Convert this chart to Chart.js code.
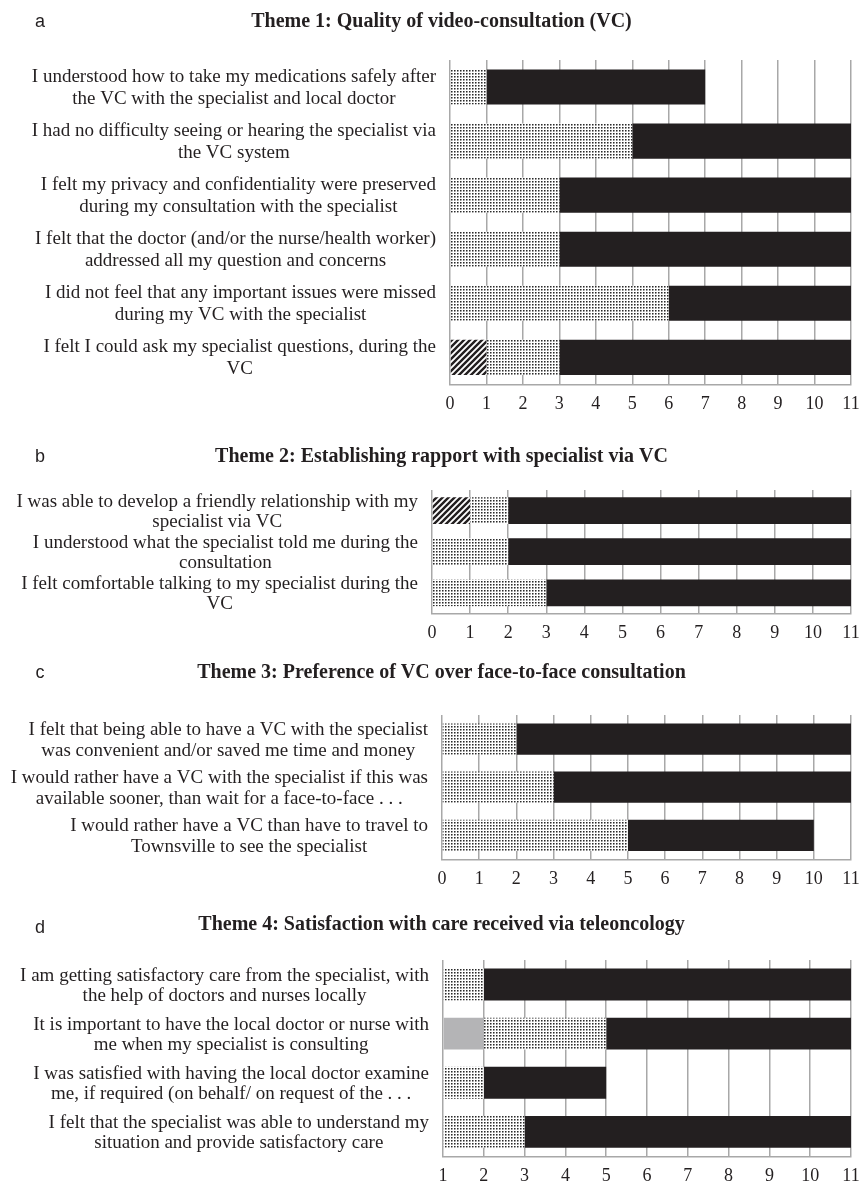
<!DOCTYPE html>
<html>
<head>
<meta charset="utf-8">
<script src="https://cdn.jsdelivr.net/npm/chart.js@4"></script>
<style>
  body { margin: 0; background: #fff; }
  #wrap { position: relative; width: 859px; height: 1196px; }
  #wrap canvas { position: absolute; left: 0; }
</style>
</head>
<body>
<div id="wrap">
  <canvas id="themeA" width="859" height="424" style="top:0px"></canvas>
  <canvas id="themeB" width="859" height="229" style="top:424px"></canvas>
  <canvas id="themeC" width="859" height="246" style="top:653px"></canvas>
  <canvas id="themeD" width="859" height="297" style="top:899px"></canvas>
</div>
<script>
// Theme 1: Quality of video-consultation (VC)
const themeALabels = [
    ['I understood how to take my medications safely after', 'the VC with the specialist and local doctor'],
    ['I had no difficulty seeing or hearing the specialist via', 'the VC system'],
    ['I felt my privacy and confidentiality were preserved', 'during my consultation with the specialist'],
    ['I felt that the doctor (and/or the nurse/health worker)', 'addressed all my question and concerns'],
    ['I did not feel that any important issues were missed', 'during my VC with the specialist'],
    ['I felt I could ask my specialist questions, during the', 'VC']
];
const themeADisagree = [0, 0, 0, 0, 0, 1];
const themeANeutral = [0, 0, 0, 0, 0, 0];
const themeAAgree = [1, 5, 3, 3, 6, 2];
const themeAStrongly = [6, 6, 8, 8, 5, 8];

// Theme 2: Establishing rapport with specialist via VC
const themeBLabels = [
    ['I was able to develop a friendly relationship with my', 'specialist via VC'],
    ['I understood what the specialist told me during the', 'consultation'],
    ['I felt comfortable talking to my specialist during the', 'VC']
];
const themeBDisagree = [1, 0, 0];
const themeBNeutral = [0, 0, 0];
const themeBAgree = [1, 2, 3];
const themeBStrongly = [9, 9, 8];

// Theme 3: Preference of VC over face-to-face consultation
const themeCLabels = [
    ['I felt that being able to have a VC with the specialist', 'was convenient and/or saved me time and money'],
    ['I would rather have a VC with the specialist if this was', 'available sooner, than wait for a face-to-face . . .'],
    ['I would rather have a VC than have to travel to', 'Townsville to see the specialist']
];
const themeCDisagree = [0, 0, 0];
const themeCNeutral = [0, 0, 0];
const themeCAgree = [2, 3, 5];
const themeCStrongly = [9, 8, 5];

// Theme 4: Satisfaction with care received via teleoncology
const themeDLabels = [
    ['I am getting satisfactory care from the specialist, with', 'the help of doctors and nurses locally'],
    ['It is important to have the local doctor or nurse with', 'me when my specialist is consulting'],
    ['I was satisfied with having the local doctor examine', 'me, if required (on behalf/ on request of the . . .'],
    ['I felt that the specialist was able to understand my', 'situation and provide satisfactory care']
];
const themeDDisagree = [0, 0, 0, 0];
const themeDNeutral = [0, 1, 0, 0];
const themeDAgree = [1, 3, 1, 2];
const themeDStrongly = [9, 6, 3, 8];

// tick labels: panels a-c count from 0, panel d axis is labelled from 1
const ticksFromZero = ['0', '1', '2', '3', '4', '5', '6', '7', '8', '9', '10', '11'];
const ticksFromOne = ['1', '2', '3', '4', '5', '6', '7', '8', '9', '10', '11'];

const INK = '#231f20';
const GRID = '#a8a8a8';
Chart.defaults.font.family = '"Liberation Serif", "Times New Roman", serif';
Chart.defaults.color = INK;

// fill patterns
const makeDots = () => {
    const c = document.createElement('canvas');
    c.width = 3; c.height = 3;
    const g = c.getContext('2d');
    g.fillStyle = '#fff';
    g.fillRect(0, 0, 3, 3);
    g.fillStyle = '#2a2a2a';
    g.fillRect(1, 1, 1, 1);
    g.fillStyle = '#8a8a8a';
    g.fillRect(2, 1, 1, 1);
    g.fillRect(1, 2, 1, 1);
    g.fillStyle = '#c4c4c4';
    g.fillRect(2, 2, 1, 1);
    return g.createPattern(c, 'repeat');
};

const makeHatch = () => {
    const c = document.createElement('canvas');
    c.width = 6; c.height = 6;
    const g = c.getContext('2d');
    g.fillStyle = '#fff';
    g.fillRect(0, 0, 6, 6);
    g.strokeStyle = INK;
    g.lineWidth = 2.4;
    g.beginPath();
    g.moveTo(-1, 7); g.lineTo(7, -1);
    g.moveTo(-4, 4); g.lineTo(4, -4);
    g.moveTo(2, 10); g.lineTo(10, 2);
    g.stroke();
    return g.createPattern(c, 'repeat');
};

const dotted = makeDots();
const hatched = makeHatch();

// draws the multi-line statements: each block right-aligned, lines centred
const sideLabels = {
    id: 'sideLabels',
    afterDraw(chart, args, opts) {
        const { ctx, chartArea, scales: { y } } = chart;
        ctx.save();
        ctx.font = opts.font;
        ctx.fillStyle = INK;
        ctx.textAlign = 'center';
        ctx.textBaseline = 'middle';
        chart.data.labels.forEach((lines, i) => {
            const yc = y.getPixelForValue(i) + 1;
            const w = Math.max(...lines.map(l => ctx.measureText(l).width));
            const cx = chartArea.left - opts.gap - w / 2;
            lines.forEach((l, j) => {
                ctx.fillText(l, cx, yc + (j - (lines.length - 1) / 2) * opts.lineHeight);
            });
        });
        ctx.restore();
    }
};

// panel letter a/b/c/d
const panelLetter = {
    id: 'panelLetter',
    afterDraw(chart, args, opts) {
        const { ctx } = chart;
        ctx.save();
        ctx.font = '18px "Liberation Sans", Arial, sans-serif';
        ctx.fillStyle = INK;
        ctx.textAlign = 'center';
        ctx.textBaseline = 'middle';
        ctx.fillText(opts.text, 40, opts.y);
        ctx.restore();
    }
};

const makePanel = (id, p) => {
    new Chart(document.getElementById(id).getContext('2d'), {
        type: 'bar',
        data: {
            labels: p.labels,
            datasets: [
                { label: 'Disagree', data: p.disagree, backgroundColor: hatched },
                { label: 'Neutral', data: p.neutral, backgroundColor: '#b4b4b6' },
                { label: 'Agree', data: p.agree, backgroundColor: dotted },
                { label: 'Strongly agree', data: p.strongly, backgroundColor: INK }
            ]
        },
        options: {
            indexAxis: 'y',
            responsive: false,
            animation: false,
            borderWidth: 0,
            barPercentage: 0.65,
            categoryPercentage: 1,
            layout: { padding: { left: 24, right: 0, top: 0, bottom: 0 } },
            scales: {
                x: {
                    stacked: true,
                    min: 0,
                    max: p.ticks.length - 1,
                    ticks: {
                        stepSize: 1,
                        padding: 9,
                        font: { size: 18 },
                        color: INK,
                        callback: (v) => p.ticks[v]
                    },
                    grid: { color: GRID, lineWidth: 1.5, drawTicks: false },
                    border: { display: true, color: GRID, width: 1.5 },
                    afterFit: (scale) => { scale.paddingRight = 8; }
                },
                y: {
                    stacked: true,
                    ticks: { display: false },
                    grid: { display: false },
                    border: { display: false },
                    afterFit: (scale) => { scale.width = p.axisWidth; }
                }
            },
            plugins: {
                legend: { display: false },
                tooltip: { enabled: false },
                title: {
                    display: true,
                    text: p.title,
                    color: INK,
                    font: { size: 20, weight: 'bold' },
                    padding: p.titlePadding
                },
                sideLabels: { font: '19px "Liberation Serif", "Times New Roman", serif', gap: 14, lineHeight: p.lineHeight },
                panelLetter: { text: p.letter, y: p.letterY }
            }
        },
        plugins: [sideLabels, panelLetter]
    });
};

makePanel('themeA', {
    title: 'Theme 1: Quality of video-consultation (VC)', letter: 'a', letterY: 22,
    labels: themeALabels, disagree: themeADisagree, neutral: themeANeutral, agree: themeAAgree, strongly: themeAStrongly,
    ticks: ticksFromZero, axisWidth: 426, lineHeight: 22, titlePadding: { top: 10, bottom: 26 }
});

makePanel('themeB', {
    title: 'Theme 2: Establishing rapport with specialist via VC', letter: 'b', letterY: 33,
    labels: themeBLabels, disagree: themeBDisagree, neutral: themeBNeutral, agree: themeBAgree, strongly: themeBStrongly,
    ticks: ticksFromZero, axisWidth: 408, lineHeight: 20, titlePadding: { top: 21, bottom: 21 }
});

makePanel('themeC', {
    title: 'Theme 3: Preference of VC over face-to-face consultation', letter: 'c', letterY: 20,
    labels: themeCLabels, disagree: themeCDisagree, neutral: themeCNeutral, agree: themeCAgree, strongly: themeCStrongly,
    ticks: ticksFromZero, axisWidth: 418, lineHeight: 21, titlePadding: { top: 8, bottom: 30 }
});

makePanel('themeD', {
    title: 'Theme 4: Satisfaction with care received via teleoncology', letter: 'd', letterY: 29,
    labels: themeDLabels, disagree: themeDDisagree, neutral: themeDNeutral, agree: themeDAgree, strongly: themeDStrongly,
    ticks: ticksFromOne, axisWidth: 419, lineHeight: 20, titlePadding: { top: 14, bottom: 23 }
});
</script>
</body>
</html>
